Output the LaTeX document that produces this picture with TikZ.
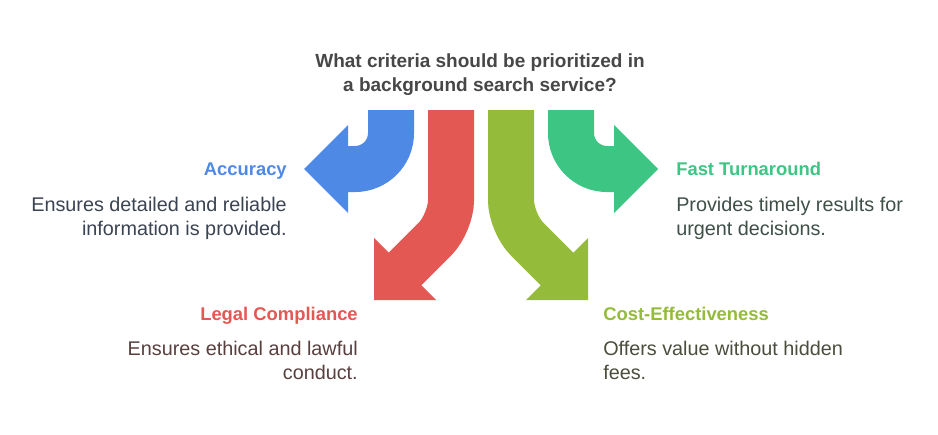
\documentclass[tikz,border=0pt]{standalone}
\usepackage{fontspec}
\setmainfont{Liberation Sans}
\usepackage{tikz}
\usetikzlibrary{calc}
\definecolor{accblue}{HTML}{4E89E6}
\definecolor{legred}{HTML}{E45853}
\definecolor{costolive}{HTML}{94BC3A}
\definecolor{fastgreen}{HTML}{3DC584}
\definecolor{askgray}{HTML}{474747}
\definecolor{accdesc}{HTML}{3B4452}
\definecolor{legdesc}{HTML}{5A3F3F}
\definecolor{fastdesc}{HTML}{3E5047}
\definecolor{costdesc}{HTML}{4B4E3D}
\tikzset{
  shaft/.style={line width=34.5pt,shorten >=-3pt},
  heading/.style={font=\bfseries\fontsize{13.8}{16}\selectfont,inner sep=0pt},
  blurb/.style={font=\fontsize{14.85}{18}\selectfont,inner sep=0pt},
}
% #1 colour, #2 bend radius, #3 start, #4 bend, #5 base of head, #6 tip
\newcommand{\bentarrow}[6]{%
  \draw[shaft,draw=#1,rounded corners=#2] (#3) -- (#4) -- (#5);
  \fill[#1] (#6) -- ($(#5)!1!90:(#6)$) -- ($(#5)!1!-90:(#6)$) -- cycle;}

\begin{document}
\begin{tikzpicture}[x=0.75pt,y=-0.75pt]
  \useasboundingbox[fill=white] (0,0) rectangle (938,435);
  \node[font=\bfseries\fontsize{14.25}{17.25}\selectfont,text=askgray,align=center,inner sep=0pt,anchor=base]
    (ask) at (480,91) {What criteria should be prioritized in\\a background search service?};

  % arrow ends
  \coordinate (accS) at (391,110); \coordinate (accK) at (391,169);
  \coordinate (accB) at (348,169); \coordinate (accT) at (304,169);
  \coordinate (legS) at (451,110); \coordinate (legK) at (451,223);
  \coordinate (legB) at (405,269); \coordinate (legT) at (374,300);
  \coordinate (costS) at (511,110); \coordinate (costK) at (511,223);
  \coordinate (costB) at (557,269); \coordinate (costT) at (588,300);
  \coordinate (fastS) at (571,110); \coordinate (fastK) at (571,169);
  \coordinate (fastB) at (614,169); \coordinate (fastT) at (658,169);

  \bentarrow{accblue}{27pt}{accS}{accK}{accB}{accT}
  \bentarrow{legred}{17pt}{legS}{legK}{legB}{legT}
  \bentarrow{costolive}{17pt}{costS}{costK}{costB}{costT}
  \bentarrow{fastgreen}{27pt}{fastS}{fastK}{fastB}{fastT}

  % labels
  \node[heading,text=accblue,anchor=base east] (acc) at (287,175) {Accuracy};
  \node[blurb,text=accdesc,align=right,anchor=base east] (accd) at (287,235)
    {Ensures detailed and reliable\\information is provided.};
  \node[heading,text=legred,anchor=base east] (leg) at (358,320) {Legal Compliance};
  \node[blurb,text=legdesc,align=right,anchor=base east] (legd) at (358,379)
    {Ensures ethical and lawful\\conduct.};
  \node[heading,text=fastgreen,anchor=base west] (fast) at (676,175) {Fast Turnaround};
  \node[blurb,text=fastdesc,align=left,anchor=base west] (fastd) at (676,235)
    {Provides timely results for\\urgent decisions.};
  \node[heading,text=costolive,anchor=base west] (cost) at (603,320) {Cost-Effectiveness};
  \node[blurb,text=costdesc,align=left,anchor=base west] (costd) at (603,379)
    {Offers value without hidden\\fees.};
\end{tikzpicture}
\end{document}
